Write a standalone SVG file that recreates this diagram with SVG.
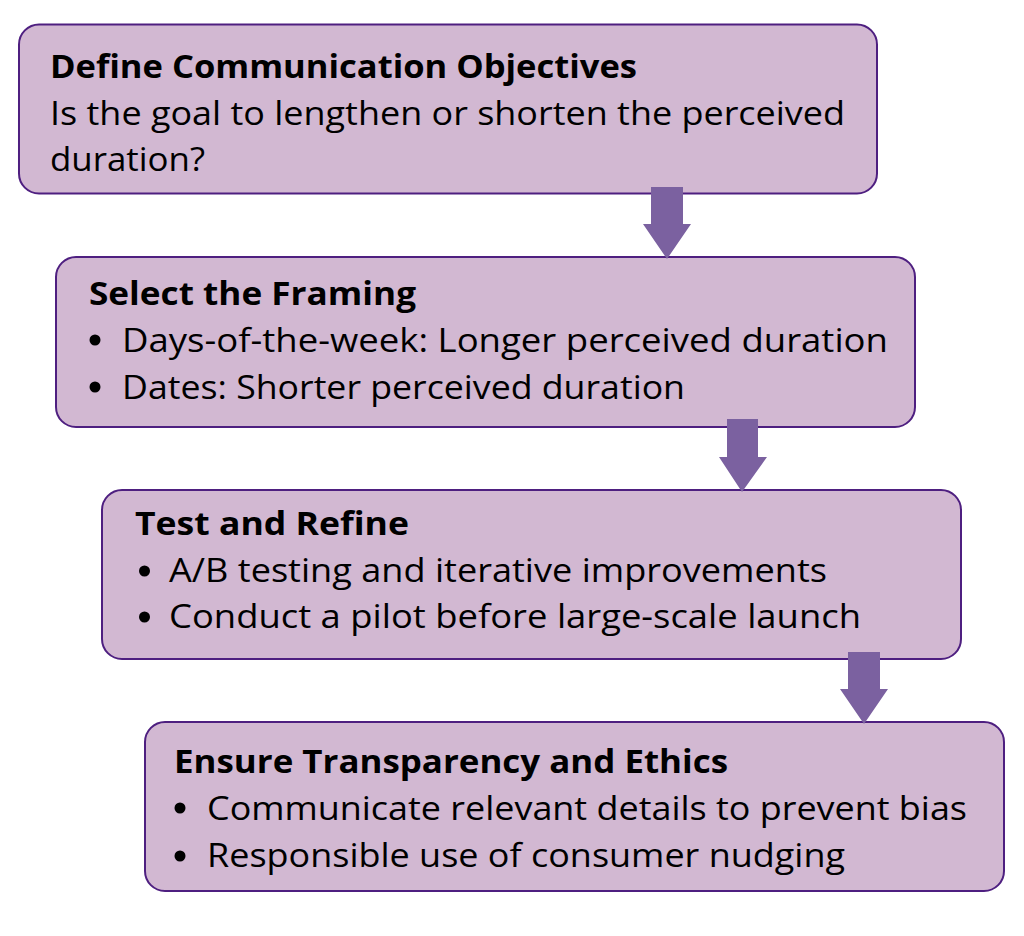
<svg xmlns="http://www.w3.org/2000/svg" width="1024" height="936" viewBox="0 0 1024 936">
<style>
.box{fill:#d2b8d2;stroke:#4e1f80;stroke-width:2}
.arrow{fill:#7b61a0}
text{font-family:"Open Sans",Lato,"DejaVu Sans",sans-serif;font-size:33px;fill:#000}
.t{font-weight:bold}
</style>
<rect width="1024" height="936" fill="#fff"/>
<g id="node1">
<rect class="box" x="19" y="24.5" width="858" height="169" rx="20"/>
<text class="t" x="50" y="78" textLength="587" lengthAdjust="spacingAndGlyphs">Define Communication Objectives</text>
<text x="50" y="125" textLength="795" lengthAdjust="spacingAndGlyphs">Is the goal to lengthen or shorten the perceived</text>
<text x="50" y="171" textLength="155" lengthAdjust="spacingAndGlyphs">duration?</text>
</g>
<g id="node2">
<rect class="box" x="56" y="257" width="859" height="170" rx="20"/>
<text class="t" x="89" y="305" textLength="327" lengthAdjust="spacingAndGlyphs">Select the Framing</text>
<circle cx="95" cy="340" r="5.5"/>
<text x="122" y="352" textLength="766" lengthAdjust="spacingAndGlyphs">Days-of-the-week: Longer perceived duration</text>
<circle cx="95" cy="387" r="5.5"/>
<text x="122" y="399" textLength="563" lengthAdjust="spacingAndGlyphs">Dates: Shorter perceived duration</text>
</g>
<g id="node3">
<rect class="box" x="102" y="490" width="859" height="169" rx="20"/>
<text class="t" x="135" y="535" textLength="274" lengthAdjust="spacingAndGlyphs">Test and Refine</text>
<circle cx="144.5" cy="571" r="5.5"/>
<text x="169" y="582" textLength="658" lengthAdjust="spacingAndGlyphs">A/B testing and iterative improvements</text>
<circle cx="144.5" cy="617" r="5.5"/>
<text x="169" y="628" textLength="692" lengthAdjust="spacingAndGlyphs">Conduct a pilot before large-scale launch</text>
</g>
<g id="node4">
<rect class="box" x="145" y="722" width="859" height="169" rx="20"/>
<text class="t" x="174" y="773" textLength="554" lengthAdjust="spacingAndGlyphs">Ensure Transparency and Ethics</text>
<circle cx="180" cy="808" r="5.5"/>
<text x="207" y="820" textLength="760" lengthAdjust="spacingAndGlyphs">Communicate relevant details to prevent bias</text>
<circle cx="180" cy="856" r="5.5"/>
<text x="207" y="867" textLength="638" lengthAdjust="spacingAndGlyphs">Responsible use of consumer nudging</text>
</g>
<g id="connectors">
<polygon class="arrow" points="651,187 683,187 683,224 691,224 667,259 643,224 651,224"/>
<polygon class="arrow" points="727,419 758,419 758,457 767,457 742,492 719,457 727,457"/>
<polygon class="arrow" points="848,652 880,652 880,689 888,689 864,724 840,689 848,689"/>
</g>
</svg>
